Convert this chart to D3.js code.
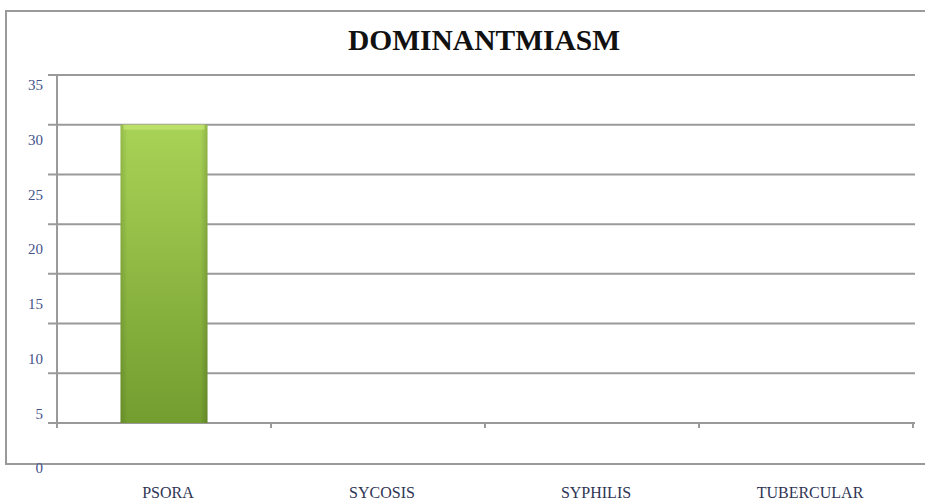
<!DOCTYPE html>
<html>
<head>
<meta charset="utf-8">
<script src="https://cdn.jsdelivr.net/npm/d3@7"></script>
<style>
  body { margin: 0; background: #fff; }
  text { font-family: "Liberation Serif", "DejaVu Serif", serif; }
</style>
</head>
<body>
<div id="chart"></div>
<script>
let categories = ['PSORA', 'SYCOSIS', 'SYPHILIS', 'TUBERCULAR'];
let values = [30, 0, 0, 0];
let yTicks = [0, 5, 10, 15, 20, 25, 30, 35];
let yTickLabels = ['0', '5', '10', '15', '20', '25', '30', '35'];
let chartTitle = 'DOMINANTMIASM';

let w = 925, h = 500;
let plotLeft = 57, plotRight = 913, plotTop = 75, plotBottom = 423;

let svg = d3.select('#chart').append('svg')
  .attr('width', w)
  .attr('height', h);

// outer frame (runs off the right edge)
svg.append('path')
  .attr('d', 'M' + 930 + ',11 H6 V464 H930')
  .attr('fill', 'none')
  .attr('stroke', '#9a9a9a')
  .attr('stroke-width', 2);

let x = d3.scaleBand()
  .domain(categories)
  .range([plotLeft, plotRight]);

let y = d3.scaleLinear()
  .domain([0, 35])
  .range([plotBottom, plotTop]);

// labels sit on their own, slightly stretched scale
let yLab = d3.scaleLinear()
  .domain([0, 35])
  .range([468, 85]);

// gridlines
svg.append('g')
  .selectAll('line')
  .data(yTicks)
  .enter()
  .append('line')
    .attr('x1', plotLeft - 9)
    .attr('x2', plotRight + 2)
    .attr('y1', function(d){ return y(d); })
    .attr('y2', function(d){ return y(d); })
    .attr('stroke', '#9a9a9a')
    .attr('stroke-width', 2);

// y axis line
svg.append('line')
  .attr('x1', plotLeft).attr('x2', plotLeft)
  .attr('y1', y(35)).attr('y2', y(0) + 5)
  .attr('stroke', '#9a9a9a')
  .attr('stroke-width', 2);

// x ticks at category boundaries
let bounds = categories.map(function(d){ return x(d); }).concat([x.range()[1]]);
svg.append('g')
  .selectAll('line')
  .data(bounds)
  .enter()
  .append('line')
    .attr('x1', function(d){ return d; })
    .attr('x2', function(d){ return d; })
    .attr('y1', y(0))
    .attr('y2', y(0) + 5)
    .attr('stroke', '#9a9a9a')
    .attr('stroke-width', 2);

// y labels
svg.append('g')
  .selectAll('text')
  .data(yTicks)
  .enter()
  .append('text')
    .attr('x', 43)
    .attr('y', function(d){ return yLab(d); })
    .attr('dy', '0.35em')
    .attr('text-anchor', 'end')
    .attr('font-size', '15px')
    .attr('fill', '#45538a')
    .text(function(d, i){ return yTickLabels[i]; });

// bar gradient
let defs = svg.append('defs');
let grad = defs.append('linearGradient')
  .attr('id', 'barGrad')
  .attr('x1', 0).attr('x2', 0).attr('y1', 0).attr('y2', 1);
grad.append('stop').attr('offset', '0%').attr('stop-color', '#a9d356');
grad.append('stop').attr('offset', '100%').attr('stop-color', '#739d2f');

let side = defs.append('linearGradient')
  .attr('id', 'sideGrad')
  .attr('x1', 0).attr('x2', 1).attr('y1', 0).attr('y2', 0);
side.append('stop').attr('offset', '0%').attr('stop-color', '#000').attr('stop-opacity', 0.12);
side.append('stop').attr('offset', '8%').attr('stop-color', '#000').attr('stop-opacity', 0);
side.append('stop').attr('offset', '92%').attr('stop-color', '#000').attr('stop-opacity', 0);
side.append('stop').attr('offset', '100%').attr('stop-color', '#000').attr('stop-opacity', 0.15);

let barW = 87;
let bars = svg.append('g')
  .selectAll('g')
  .data(values.map(function(v, i){ return {cat: categories[i], val: v}; }).filter(function(d){ return d.val > 0; }))
  .enter()
  .append('g');

bars.append('rect')
  .attr('x', function(d){ return x(d.cat) + x.bandwidth()/2 - barW/2; })
  .attr('y', function(d){ return y(d.val); })
  .attr('width', barW)
  .attr('height', function(d){ return y(0) - y(d.val); })
  .attr('fill', 'url(#barGrad)');

bars.append('rect')
  .attr('x', function(d){ return x(d.cat) + x.bandwidth()/2 - barW/2; })
  .attr('y', function(d){ return y(d.val); })
  .attr('width', barW)
  .attr('height', function(d){ return y(0) - y(d.val); })
  .attr('fill', 'url(#sideGrad)');

// top bevel highlight
bars.append('rect')
  .attr('x', function(d){ return x(d.cat) + x.bandwidth()/2 - barW/2 + 3; })
  .attr('y', function(d){ return y(d.val); })
  .attr('width', barW - 6)
  .attr('height', 5)
  .attr('fill', '#c2e36f')
  .attr('opacity', 0.8);

// x labels
svg.append('g')
  .selectAll('text')
  .data(categories)
  .enter()
  .append('text')
    .attr('x', function(d){ return x(d) + x.bandwidth()/2 + 4; })
    .attr('y', 498)
    .attr('text-anchor', 'middle')
    .attr('font-size', '16px')
    .attr('fill', '#2f3555')
    .text(function(d){ return d; });

// title
svg.append('text')
  .attr('x', 484)
  .attr('y', 50)
  .attr('text-anchor', 'middle')
  .attr('font-size', '30px')
  .attr('font-weight', 'bold')
  .attr('fill', '#111')
  .attr('textLength', 272)
  .attr('lengthAdjust', 'spacingAndGlyphs')
  .text(chartTitle);
</script>
</body>
</html>
